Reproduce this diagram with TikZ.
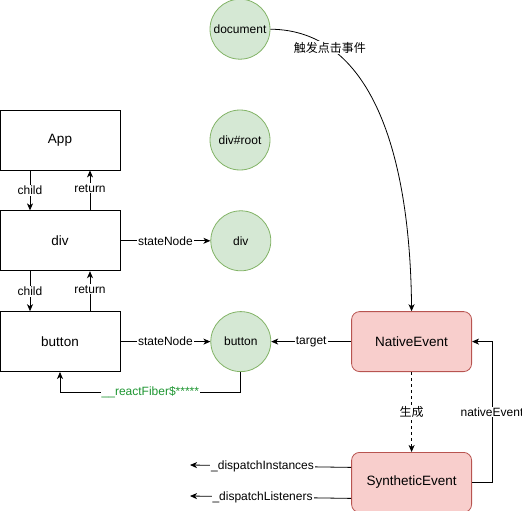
\documentclass[tikz,border=0pt]{standalone}
\usepackage{fontspec}
\setmainfont{Liberation Sans}
\newfontfamily\cjk{Noto Sans CJK SC}
\usetikzlibrary{arrows.meta,positioning}

\definecolor{domfill}{HTML}{D5E8D4}
\definecolor{domline}{HTML}{82B366}
\definecolor{evfill}{HTML}{F8CECC}
\definecolor{evline}{HTML}{B85450}
\definecolor{fibertext}{HTML}{1E9632}

\begin{document}
\begin{tikzpicture}[x=1pt,y=-1pt,>={Stealth[length=7pt,width=6pt,inset=2pt]}]
        \tikzstyle{every path}=[line width=0.8pt]

        \tikzstyle{fiber}=[draw,minimum width=120pt,minimum height=60pt,inner sep=0pt,font=\fontsize{13.5}{16}\selectfont]
        \tikzstyle{dom}=[draw=domline,fill=domfill,circle,minimum size=60pt,inner sep=0pt,font=\fontsize{12}{14}\selectfont]
        \tikzstyle{ev}=[draw=evline,fill=evfill,rounded corners=8pt,minimum width=120pt,minimum height=60pt,inner sep=0pt,font=\fontsize{13.5}{16}\selectfont]
        \tikzstyle{lbl}=[fill=white,inner sep=1pt,font=\fontsize{12}{14}\selectfont]

        \useasboundingbox (0,0) rectangle (522,511);

        % fiber tree
        \node [fiber] (app) at (60,140) {App};
        \node [fiber,below=40pt of app] (div) {div};
        \node [fiber,below=40pt of div] (button) {button};

        % dom nodes
        \node [dom] (root) at (240,140) {div\#root};
        \node [dom,above=50pt of root] (document) {document};
        \node [dom,right=90pt of div] (divdom) {div};
        \node [dom,right=90pt of button] (buttondom) {button};

        % events
        \node [ev,right=80pt of buttondom] (native) {NativeEvent};
        \node [ev,below=80pt of native] (synthetic) {SyntheticEvent};
        \coordinate (instances) at (190,465);
        \coordinate (listeners) at (190,496);

        %child / return links
        \foreach \top/\bottom in {app/div, div/button} {
            \draw [->] ([xshift=-30pt]\top.south) -- node [lbl] {child} ([xshift=-30pt]\bottom.north);
            \draw [->] ([xshift=30pt]\bottom.north) -- node [lbl,yshift=2pt] {return} ([xshift=30pt]\top.south);
        };

        \draw [->] (div) -- node [lbl] {stateNode} (divdom);
        \draw [->] (button) -- node [lbl] {stateNode} (buttondom);
        \draw [->] (buttondom.south) -- ++(0,20) -| node [lbl,pos=0.25,text=fibertext] {\_\_reactFiber\$*****} (button.south);

        \draw [->] (document.east) .. controls (370,30) and (410,150) .. node [lbl,pos=0.23,font=\cjk\fontsize{12}{14}\selectfont] {触发点击事件} (native.north);
        \draw [->] (native) -- node [lbl] {target} (buttondom);
        \draw [->,dashed] (native) -- node [lbl,font=\cjk\fontsize{12}{14}\selectfont] {生成} (synthetic);
        \draw [->] (synthetic.east) -- ++(20,0) |- node [lbl,pos=0.25] {nativeEvent} (native.east);

        \draw [->] ([yshift=15pt]synthetic.west) -- node [lbl,pos=0.55] {\_dispatchInstances} (instances);
        \draw [->] ([yshift=-16pt]synthetic.west) -- node [lbl,pos=0.55] {\_dispatchListeners} (listeners);
\end{tikzpicture}
\end{document}
